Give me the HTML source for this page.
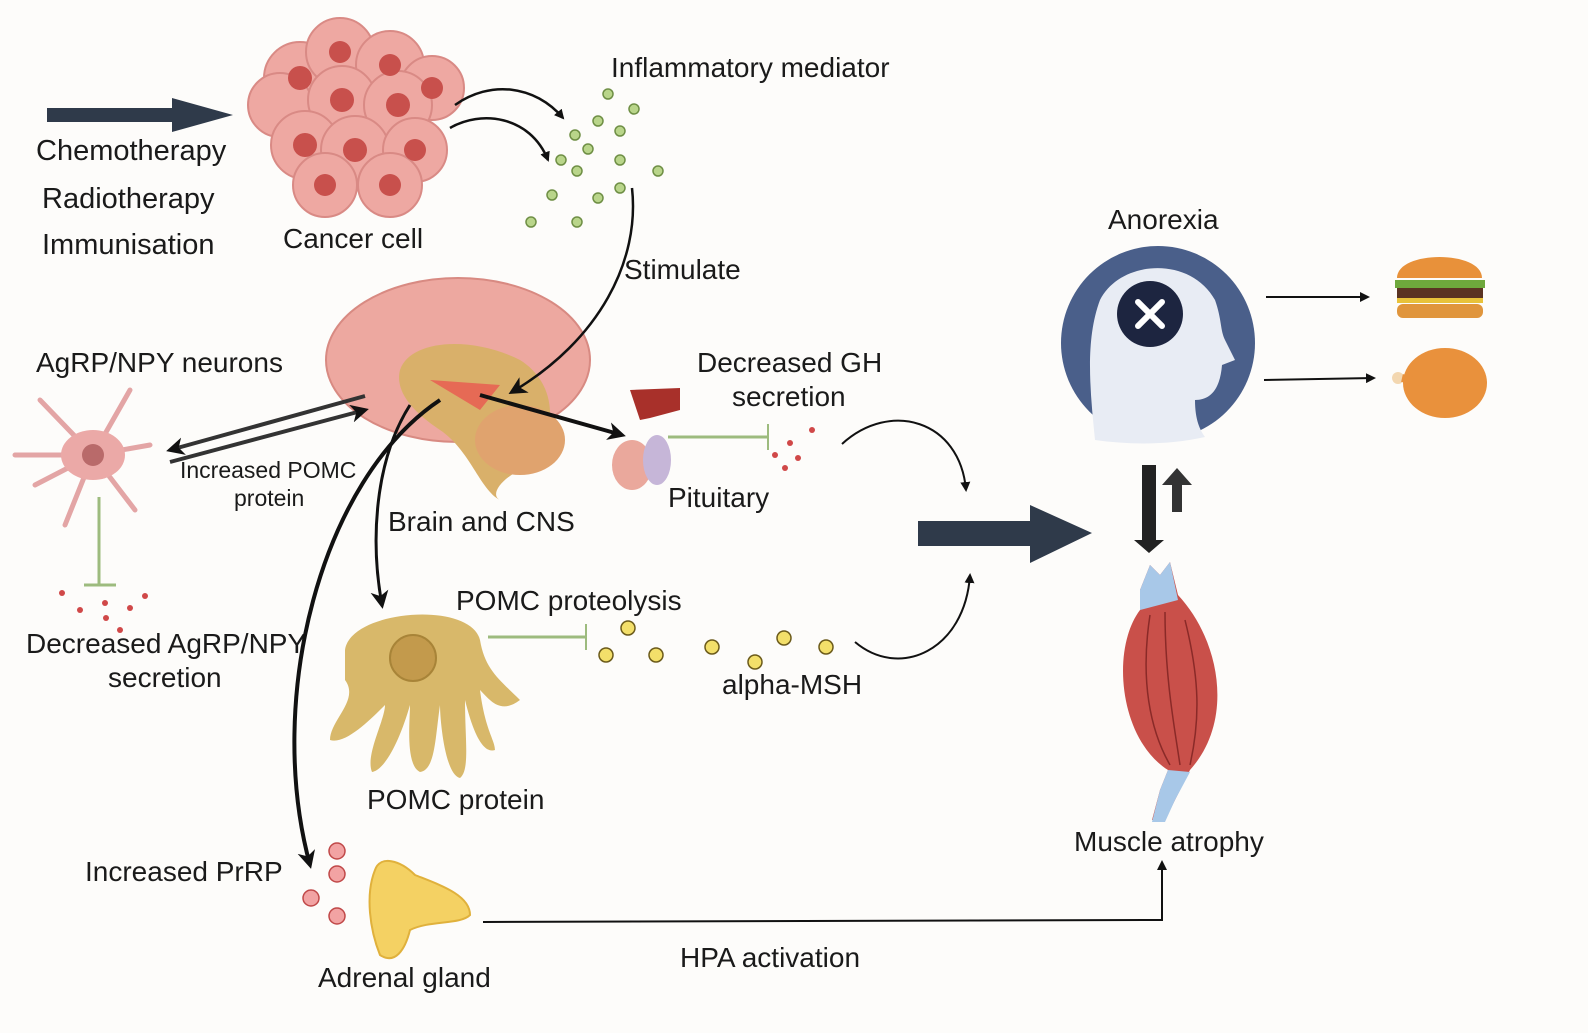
<!DOCTYPE html>
<html><head><meta charset="utf-8"><style>
html,body{margin:0;padding:0;background:#fdfcfa;}
svg{display:block;}
text{font-family:"Liberation Sans",sans-serif;fill:#1a1a1a;}
</style></head><body>
<svg width="1588" height="1033" viewBox="0 0 1588 1033" xmlns="http://www.w3.org/2000/svg">
<defs>
<marker id="ah" markerWidth="10" markerHeight="10" refX="8" refY="5" orient="auto" markerUnits="userSpaceOnUse"><path d="M0,0 L10,5 L0,10 z" fill="#111"/></marker>
<marker id="ahb" markerWidth="18" markerHeight="18" refX="14" refY="9" orient="auto" markerUnits="userSpaceOnUse"><path d="M0,0 L18,9 L0,18 L5,9 z" fill="#111"/></marker>
</defs>
<rect width="1588" height="1033" fill="#fdfcfa"/>

<polygon points="47,108 172,108 172,98 233,115 172,132 172,122 47,122" fill="#2f3a4a"/>
<text x="36" y="160" font-size="29">Chemotherapy</text>
<text x="42" y="208" font-size="29">Radiotherapy</text>
<text x="42" y="254" font-size="29">Immunisation</text>

<g stroke="#d98a85" stroke-width="2" fill="#eea8a2">
<circle cx="300" cy="78" r="36"/><circle cx="340" cy="52" r="34"/><circle cx="390" cy="65" r="34"/><circle cx="432" cy="88" r="32"/>
<circle cx="280" cy="105" r="32"/><circle cx="342" cy="100" r="34"/><circle cx="398" cy="105" r="34"/>
<circle cx="305" cy="145" r="34"/><circle cx="355" cy="150" r="34"/><circle cx="415" cy="150" r="32"/>
<circle cx="325" cy="185" r="32"/><circle cx="390" cy="185" r="32"/>
</g>
<g fill="#c8504c">
<circle cx="300" cy="78" r="12"/><circle cx="340" cy="52" r="11"/><circle cx="390" cy="65" r="11"/><circle cx="432" cy="88" r="11"/>
<circle cx="342" cy="100" r="12"/><circle cx="398" cy="105" r="12"/><circle cx="305" cy="145" r="12"/><circle cx="355" cy="150" r="12"/>
<circle cx="415" cy="150" r="11"/><circle cx="325" cy="185" r="11"/><circle cx="390" cy="185" r="11"/>
</g>
<text x="283" y="248" font-size="28">Cancer cell</text>

<path d="M455,105 C490,80 535,85 563,118" fill="none" stroke="#111" stroke-width="2.5" marker-end="url(#ah)"/>
<path d="M450,128 C480,110 530,115 548,160" fill="none" stroke="#111" stroke-width="2.5" marker-end="url(#ah)"/>
<text x="611" y="77" font-size="28">Inflammatory mediator</text>
<g fill="#b9d58a" stroke="#6f8f45" stroke-width="1.5">
<circle cx="608" cy="94" r="5"/><circle cx="634" cy="109" r="5"/><circle cx="598" cy="121" r="5"/><circle cx="620" cy="131" r="5"/>
<circle cx="575" cy="135" r="5"/><circle cx="588" cy="149" r="5"/><circle cx="561" cy="160" r="5"/><circle cx="620" cy="160" r="5"/>
<circle cx="577" cy="171" r="5"/><circle cx="658" cy="171" r="5"/><circle cx="620" cy="188" r="5"/><circle cx="552" cy="195" r="5"/>
<circle cx="598" cy="198" r="5"/><circle cx="531" cy="222" r="5"/><circle cx="577" cy="222" r="5"/>
</g>
<text x="624" y="279" font-size="28">Stimulate</text>

<ellipse cx="458" cy="360" rx="132" ry="82" fill="#eda8a0" stroke="#d88a82" stroke-width="2"/>
<path d="M400,370 C410,340 470,335 520,360 C560,385 560,440 520,470 C500,480 490,495 500,500 C480,490 470,450 440,430 C410,410 395,390 400,370 z" fill="#d9b06a"/>
<path d="M430,380 L500,385 L480,410 z" fill="#e66a55"/>
<ellipse cx="520" cy="440" rx="45" ry="35" fill="#e0a36e"/>
<path d="M632,188 C640,260 600,340 512,392" fill="none" stroke="#111" stroke-width="2.5" marker-end="url(#ahb)"/>
<text x="36" y="372" font-size="28">AgRP/NPY neurons</text>

<g stroke="#e3a5a5" stroke-width="5" fill="none" stroke-linecap="round">
<path d="M93,455 L40,400 M93,455 L130,390 M93,455 L15,455 M93,455 L150,445 M93,455 L65,525 M93,455 L135,510 M93,455 L35,485"/>
</g>
<ellipse cx="93" cy="455" rx="32" ry="25" fill="#eba9a7"/>
<circle cx="93" cy="455" r="11" fill="#b96a6a"/>
<line x1="99" y1="497" x2="99" y2="585" stroke="#9dbb7e" stroke-width="3"/>
<line x1="84" y1="585" x2="116" y2="585" stroke="#9dbb7e" stroke-width="3"/>
<g fill="#d04848"><circle cx="62" cy="593" r="3"/><circle cx="80" cy="610" r="3"/><circle cx="105" cy="603" r="3"/><circle cx="130" cy="608" r="3"/><circle cx="145" cy="596" r="3"/><circle cx="106" cy="618" r="3"/><circle cx="120" cy="630" r="3"/></g>
<text x="26" y="653" font-size="28">Decreased AgRP/NPY</text>
<text x="108" y="687" font-size="28">secretion</text>

<line x1="365" y1="396" x2="170" y2="450" stroke="#333" stroke-width="4" marker-end="url(#ahb)"/>
<line x1="170" y1="462" x2="365" y2="410" stroke="#333" stroke-width="4" marker-end="url(#ahb)"/>
<text x="180" y="478" font-size="23">Increased POMC</text>
<text x="234" y="506" font-size="23">protein</text>

<line x1="480" y1="395" x2="622" y2="435" stroke="#111" stroke-width="4" marker-end="url(#ahb)"/>
<path d="M630,390 L680,388 L680,410 L650,418 L640,420 z" fill="#a8302a"/>
<ellipse cx="632" cy="465" rx="20" ry="25" fill="#eaa89c"/>
<ellipse cx="657" cy="460" rx="14" ry="25" fill="#c6b6d8"/>
<text x="668" y="507" font-size="28">Pituitary</text>
<text x="697" y="372" font-size="28">Decreased GH</text>
<text x="732" y="406" font-size="28">secretion</text>
<line x1="668" y1="437" x2="768" y2="437" stroke="#9dbb7e" stroke-width="3"/>
<line x1="768" y1="424" x2="768" y2="450" stroke="#9dbb7e" stroke-width="2"/>
<g fill="#d04848"><circle cx="790" cy="443" r="3"/><circle cx="812" cy="430" r="3"/><circle cx="775" cy="455" r="3"/><circle cx="798" cy="458" r="3"/><circle cx="785" cy="468" r="3"/></g>
<path d="M842,444 C890,400 960,420 966,490" fill="none" stroke="#111" stroke-width="2" marker-end="url(#ah)"/>
<text x="388" y="531" font-size="28">Brain and CNS</text>

<path d="M410,405 C375,460 370,540 382,605" fill="none" stroke="#111" stroke-width="3" marker-end="url(#ahb)"/>
<path d="M345,650 C350,610 470,600 480,640 C485,670 500,680 520,700 C500,715 490,700 480,690 C485,730 495,740 495,750 C480,755 470,720 465,700 C465,740 470,770 460,778 C445,775 440,720 440,705 C435,740 435,770 420,772 C405,765 410,720 410,705 C400,740 385,770 372,772 C365,755 385,720 385,705 C370,720 345,745 330,740 C330,720 360,700 345,680 z" fill="#d8b86a"/>
<circle cx="413" cy="658" r="23" fill="#c39a4c" stroke="#a88438" stroke-width="2"/>
<text x="367" y="809" font-size="28">POMC protein</text>
<text x="456" y="610" font-size="28">POMC proteolysis</text>
<line x1="488" y1="637" x2="586" y2="637" stroke="#9dbb7e" stroke-width="3"/>
<line x1="586" y1="624" x2="586" y2="650" stroke="#9dbb7e" stroke-width="2"/>
<g fill="#f3df6a" stroke="#6b5a1a" stroke-width="1.5">
<circle cx="628" cy="628" r="7"/><circle cx="606" cy="655" r="7"/><circle cx="656" cy="655" r="7"/><circle cx="712" cy="647" r="7"/>
<circle cx="755" cy="662" r="7"/><circle cx="784" cy="638" r="7"/><circle cx="826" cy="647" r="7"/>
</g>
<text x="722" y="694" font-size="28">alpha-MSH</text>
<path d="M855,642 C900,680 965,650 970,575" fill="none" stroke="#111" stroke-width="2" marker-end="url(#ah)"/>

<polygon points="918,521 1030,521 1030,505 1092,533 1030,563 1030,546 918,546" fill="#2f3a4a"/>

<path d="M440,400 C320,480 265,700 310,865" fill="none" stroke="#111" stroke-width="4" marker-end="url(#ahb)"/>
<text x="85" y="881" font-size="28">Increased PrRP</text>
<g fill="#f2a3a3" stroke="#c04848" stroke-width="1.5">
<circle cx="337" cy="851" r="8"/><circle cx="337" cy="874" r="8"/><circle cx="311" cy="898" r="8"/><circle cx="337" cy="916" r="8"/>
</g>
<path d="M375,870 C380,855 400,860 415,875 C440,885 470,895 470,915 C460,925 430,920 410,930 C405,950 395,965 380,955 C370,930 365,895 375,870 z" fill="#f4d163" stroke="#e0b13c" stroke-width="2"/>
<text x="318" y="987" font-size="28">Adrenal gland</text>
<polyline points="483,922 1162,920 1162,862" fill="none" stroke="#111" stroke-width="2" marker-end="url(#ah)"/>
<text x="680" y="967" font-size="28">HPA activation</text>

<text x="1108" y="229" font-size="28">Anorexia</text>
<circle cx="1158" cy="343" r="97" fill="#4a5f8a"/>
<path d="M1095,440 C1090,390 1085,340 1100,300 C1120,260 1190,255 1215,300 C1222,320 1220,330 1225,340 L1235,360 L1222,365 C1220,390 1210,400 1195,400 C1195,420 1200,430 1205,437 C1170,445 1130,445 1095,440 z" fill="#e8ecf4"/>
<circle cx="1150" cy="314" r="33" fill="#1d2540"/>
<path d="M1138,302 L1162,326 M1162,302 L1138,326" stroke="#fff" stroke-width="6" stroke-linecap="round"/>
<line x1="1266" y1="297" x2="1368" y2="297" stroke="#111" stroke-width="2" marker-end="url(#ah)"/>
<line x1="1264" y1="380" x2="1374" y2="378" stroke="#111" stroke-width="2" marker-end="url(#ah)"/>
<path d="M1397,278 C1397,250 1482,250 1482,278 z" fill="#e8913a"/>
<rect x="1395" y="280" width="90" height="8" fill="#6ea83c"/>
<rect x="1397" y="288" width="86" height="10" fill="#5a3322"/>
<rect x="1397" y="298" width="86" height="5" fill="#e8c23a"/>
<rect x="1397" y="304" width="86" height="14" rx="6" fill="#e0953c"/>
<ellipse cx="1445" cy="383" rx="42" ry="35" fill="#e9913c"/>
<circle cx="1398" cy="378" r="6" fill="#f3d7b0"/>
<line x1="1402" y1="378" x2="1420" y2="382" stroke="#e9913c" stroke-width="8"/>

<polygon points="1142,465 1156,465 1156,540 1164,540 1149,553 1134,540 1142,540" fill="#222"/>
<polygon points="1172,512 1182,512 1182,485 1192,485 1177,468 1162,485 1172,485" fill="#333"/>

<path d="M1140,590 L1150,565 L1160,575 L1170,562 L1178,595 C1220,640 1235,720 1190,770 L1175,800 L1165,820 L1152,820 L1160,790 L1168,770 C1120,740 1110,650 1140,610 z" fill="#c9504a"/>
<path d="M1140,590 L1150,565 L1160,575 L1170,562 L1178,600 L1140,610 z" fill="#a8c8e8"/>
<path d="M1168,770 L1190,772 L1175,800 L1165,822 L1152,822 L1160,790 z" fill="#a8c8e8"/>
<path d="M1150,615 C1140,680 1150,730 1170,765 M1165,612 C1165,680 1175,730 1180,765 M1185,620 C1200,680 1200,720 1190,765" stroke="#8a2a28" stroke-width="1.5" fill="none"/>
<text x="1074" y="851" font-size="28">Muscle atrophy</text>
</svg>
</body></html>
